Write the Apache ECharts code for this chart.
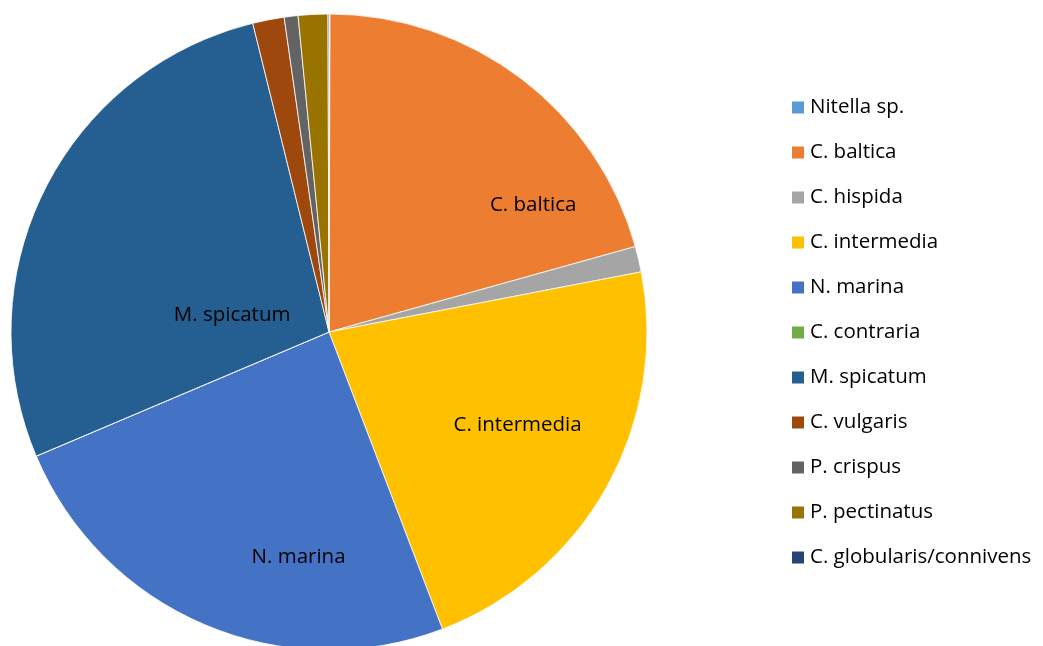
<!DOCTYPE html>
<html>
<head>
<meta charset="utf-8">
<script src="https://cdn.jsdelivr.net/npm/echarts@6/dist/echarts.min.js"></script>
<style>
html,body{margin:0;padding:0;background:#fff;}
#chart{width:1043px;height:646px;}
</style>
</head>
<body>
<div id="chart"></div>
<script>
const categories = ['Nitella sp.', 'C. baltica', 'C. hispida', 'C. intermedia', 'N. marina', 'C. contraria', 'M. spicatum', 'C. vulgaris', 'P. crispus', 'P. pectinatus', 'C. globularis/connivens'];
const values = [0.05, 20.6, 1.3, 22.2, 24.4, 0, 27.5, 1.6, 0.7, 1.5, 0.05];
const colors = ['#5B9BD5', '#ED7D31', '#A5A5A5', '#FFC000', '#4472C4', '#70AD47', '#255E91', '#9E480E', '#636363', '#997300', '#264478'];
const labelled = ['C. baltica', 'C. intermedia', 'N. marina', 'M. spicatum'];

const labelOffsets = {
  'C. baltica': [106, 2],
  'C. intermedia': [47, 14],
  'N. marina': [33, 76],
  'M. spicatum': [48, 56]
};

const FONT = '"Open Sans", Lato, sans-serif';

const data = categories.map((c, i) => {
  const item = { name: c, value: values[i], itemStyle: { color: colors[i] } };
  if (labelled.includes(c)) {
    item.label = { show: true, position: 'inside', offset: labelOffsets[c] };
  } else {
    item.label = { show: false };
  }
  return item;
});

const chart = echarts.init(document.getElementById('chart'), null, { renderer: 'canvas' });
chart.setOption({
  animation: false,
  backgroundColor: '#fff',
  legend: {
    orient: 'vertical',
    left: 790,
    top: 97,
    padding: 0,
    itemWidth: 14,
    itemHeight: 14,
    itemGap: 24,
    icon: 'rect',
    data: categories,
    textStyle: { fontFamily: FONT, fontSize: 20.5, color: '#000', lineHeight: 20 }
  },
  series: [{
    type: 'pie',
    center: [329, 332],
    radius: [0, 318],
    startAngle: 90,
    clockwise: true,
    avoidLabelOverlap: false,
    label: { fontFamily: FONT, fontSize: 20.5, color: '#000' },
    labelLine: { show: false },
    itemStyle: { borderColor: '#fff', borderWidth: 0.8 },
    emphasis: { disabled: true },
    data: data
  }]
});
</script>
</body>
</html>
